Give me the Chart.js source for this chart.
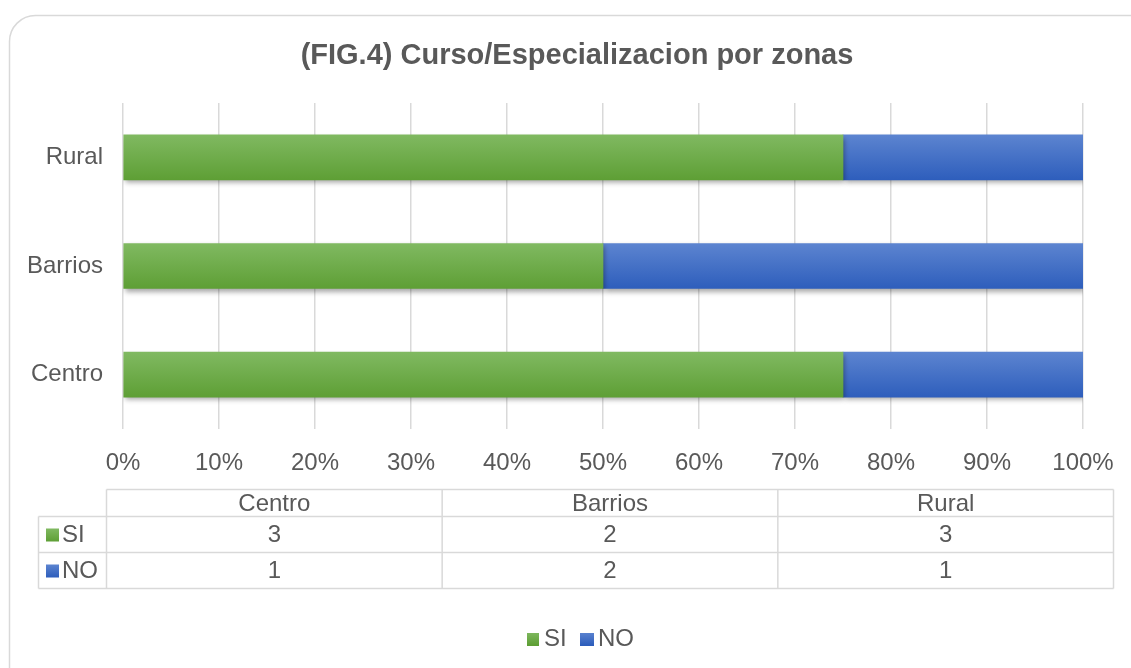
<!DOCTYPE html>
<html>
<head>
<meta charset="utf-8">
<script src="https://cdn.jsdelivr.net/npm/chart.js@4/dist/chart.umd.min.js"></script>
<style>
html,body{margin:0;padding:0;background:#fff;}
#wrap{width:1131px;height:668px;position:relative;}
</style>
</head>
<body>
<div id="wrap"><canvas id="c" width="1131" height="668"></canvas></div>
<script>
const titleText = '(FIG.4) Curso/Especializacion por zonas';
const categories = ['Centro', 'Barrios', 'Rural'];
const seriesNames = ['SI', 'NO'];
const siCounts = [3, 2, 3];
const noCounts = [1, 2, 1];
const xTickStep = 10;

const FONT = '"Liberation Sans", Arial, sans-serif';
const TXT = '#595959';
const GRID = '#d9d9d9';

const totals = categories.map((_, i) => siCounts[i] + noCounts[i]);
const siPct = siCounts.map((v, i) => v / totals[i] * 100);
const noPct = noCounts.map((v, i) => v / totals[i] * 100);

function grad(ctx, top, bottom, c1, c2) {
  const g = ctx.createLinearGradient(0, top, 0, bottom);
  g.addColorStop(0, c1); g.addColorStop(1, c2);
  return g;
}
const GREEN = ['#80b961', '#5e9f35'];
const BLUE = ['#5c84d0', '#2e5ebc'];
function barFill(cols) {
  return (context) => {
    const chart = context.chart;
    const ys = chart.scales && chart.scales.y;
    if (!ys || context.type !== 'data') return cols[1];
    const y = ys.getPixelForValue(context.dataIndex);
    if (!isFinite(y)) return cols[1];
    return grad(chart.ctx, y - 22.5, y + 22.5, cols[0], cols[1]);
  };
}

const extras = {
  id: 'extras',
  beforeDraw(chart) {
    const ctx = chart.ctx;
    ctx.save();
    ctx.fillStyle = '#fff';
    ctx.fillRect(0, 0, chart.width, chart.height);
    ctx.strokeStyle = GRID; ctx.lineWidth = 1.5;
    ctx.beginPath();
    ctx.roundRect(9.5, 15.5, 1160, 700, 26);
    ctx.stroke();
    ctx.restore();
  },
  beforeDatasetsDraw(chart) {
    const ctx = chart.ctx;
    ctx.save();
    ctx.shadowColor = 'rgba(0,0,0,0.35)';
    ctx.shadowBlur = 5;
    ctx.shadowOffsetX = 2;
    ctx.shadowOffsetY = 3;
  },
  afterDatasetsDraw(chart) {
    chart.ctx.restore();
  },
  afterDraw(chart) {
    const ctx = chart.ctx;
    ctx.save();
    ctx.fillStyle = TXT;
    ctx.font = 'bold 29px ' + FONT;
    ctx.textAlign = 'center'; ctx.textBaseline = 'middle';
    ctx.fillText(titleText, 577, 56);

    const colL = 38.5, colA = 106.5, colR = 1113.5;
    const rTop = 489.5, rH = 516.5, rS = 552.5, rN = 588.5;
    const cw = (colR - colA) / categories.length;
    ctx.strokeStyle = GRID; ctx.lineWidth = 1.5;
    ctx.beginPath();
    ctx.moveTo(colA, rTop); ctx.lineTo(colR, rTop);
    ctx.moveTo(colL, rH); ctx.lineTo(colR, rH);
    ctx.moveTo(colL, rS); ctx.lineTo(colR, rS);
    ctx.moveTo(colL, rN); ctx.lineTo(colR, rN);
    ctx.moveTo(colL, rH); ctx.lineTo(colL, rN);
    for (let i = 0; i <= categories.length; i++) {
      const x = colA + cw * i;
      ctx.moveTo(x, rTop); ctx.lineTo(x, rN);
    }
    ctx.stroke();
    ctx.font = '24px ' + FONT;
    ctx.fillStyle = TXT;
    ctx.textAlign = 'center';
    const rowsY = [(rTop + rH) / 2 + 1, (rH + rS) / 2 + 1, (rS + rN) / 2 + 1];
    categories.forEach((c, i) => {
      const cx = colA + cw * (i + 0.5);
      ctx.fillText(c, cx, rowsY[0]);
      ctx.fillText(String(siCounts[i]), cx, rowsY[1]);
      ctx.fillText(String(noCounts[i]), cx, rowsY[2]);
    });
    const cols = [GREEN, BLUE];
    ctx.textAlign = 'left';
    [rowsY[1], rowsY[2]].forEach((y, k) => {
      ctx.fillStyle = grad(ctx, y - 7, y + 6, cols[k][0], cols[k][1]);
      ctx.fillRect(46, y - 7, 13, 13);
      ctx.fillStyle = TXT;
      ctx.fillText(seriesNames[k], 62, y);
    });

    const ly = 639;
    ctx.fillStyle = grad(ctx, ly - 7, ly + 6, GREEN[0], GREEN[1]);
    ctx.fillRect(527, ly - 6, 12, 13);
    ctx.fillStyle = TXT;
    ctx.fillText(seriesNames[0], 544, ly);
    ctx.fillStyle = grad(ctx, ly - 7, ly + 6, BLUE[0], BLUE[1]);
    ctx.fillRect(580, ly - 6, 14, 13);
    ctx.fillStyle = TXT;
    ctx.fillText(seriesNames[1], 598, ly);
    ctx.restore();
  }
};

new Chart(document.getElementById('c'), {
  type: 'bar',
  data: {
    labels: categories,
    datasets: [
      { label: seriesNames[0], data: siPct, backgroundColor: barFill(GREEN), borderWidth: 0 },
      { label: seriesNames[1], data: noPct, backgroundColor: barFill(BLUE), borderWidth: 0 }
    ]
  },
  options: {
    indexAxis: 'y',
    responsive: false,
    animation: false,
    events: [],
    barThickness: 45,
    layout: { padding: { top: 103, right: 48, left: 0, bottom: 0 } },
    plugins: { legend: { display: false }, title: { display: false }, tooltip: { enabled: false } },
    scales: {
      x: {
        stacked: true, min: 0, max: 100,
        ticks: { stepSize: xTickStep, callback: v => v + '%', color: TXT, font: { family: FONT, size: 24 }, padding: 20, maxRotation: 0 },
        grid: { color: GRID, lineWidth: 1.5, drawTicks: false },
        border: { display: false },
        afterFit(s) { s.height = 668 - 429; s.paddingLeft = 0; s.paddingRight = 0; }
      },
      y: {
        stacked: true, reverse: true,
        ticks: { color: TXT, font: { family: FONT, size: 24 }, padding: 12 },
        grid: { display: false },
        border: { display: false },
        afterFit(s) { s.width = 123; s.paddingTop = 0; s.paddingBottom = 0; }
      }
    }
  },
  plugins: [extras]
});
</script>
</body>
</html>
